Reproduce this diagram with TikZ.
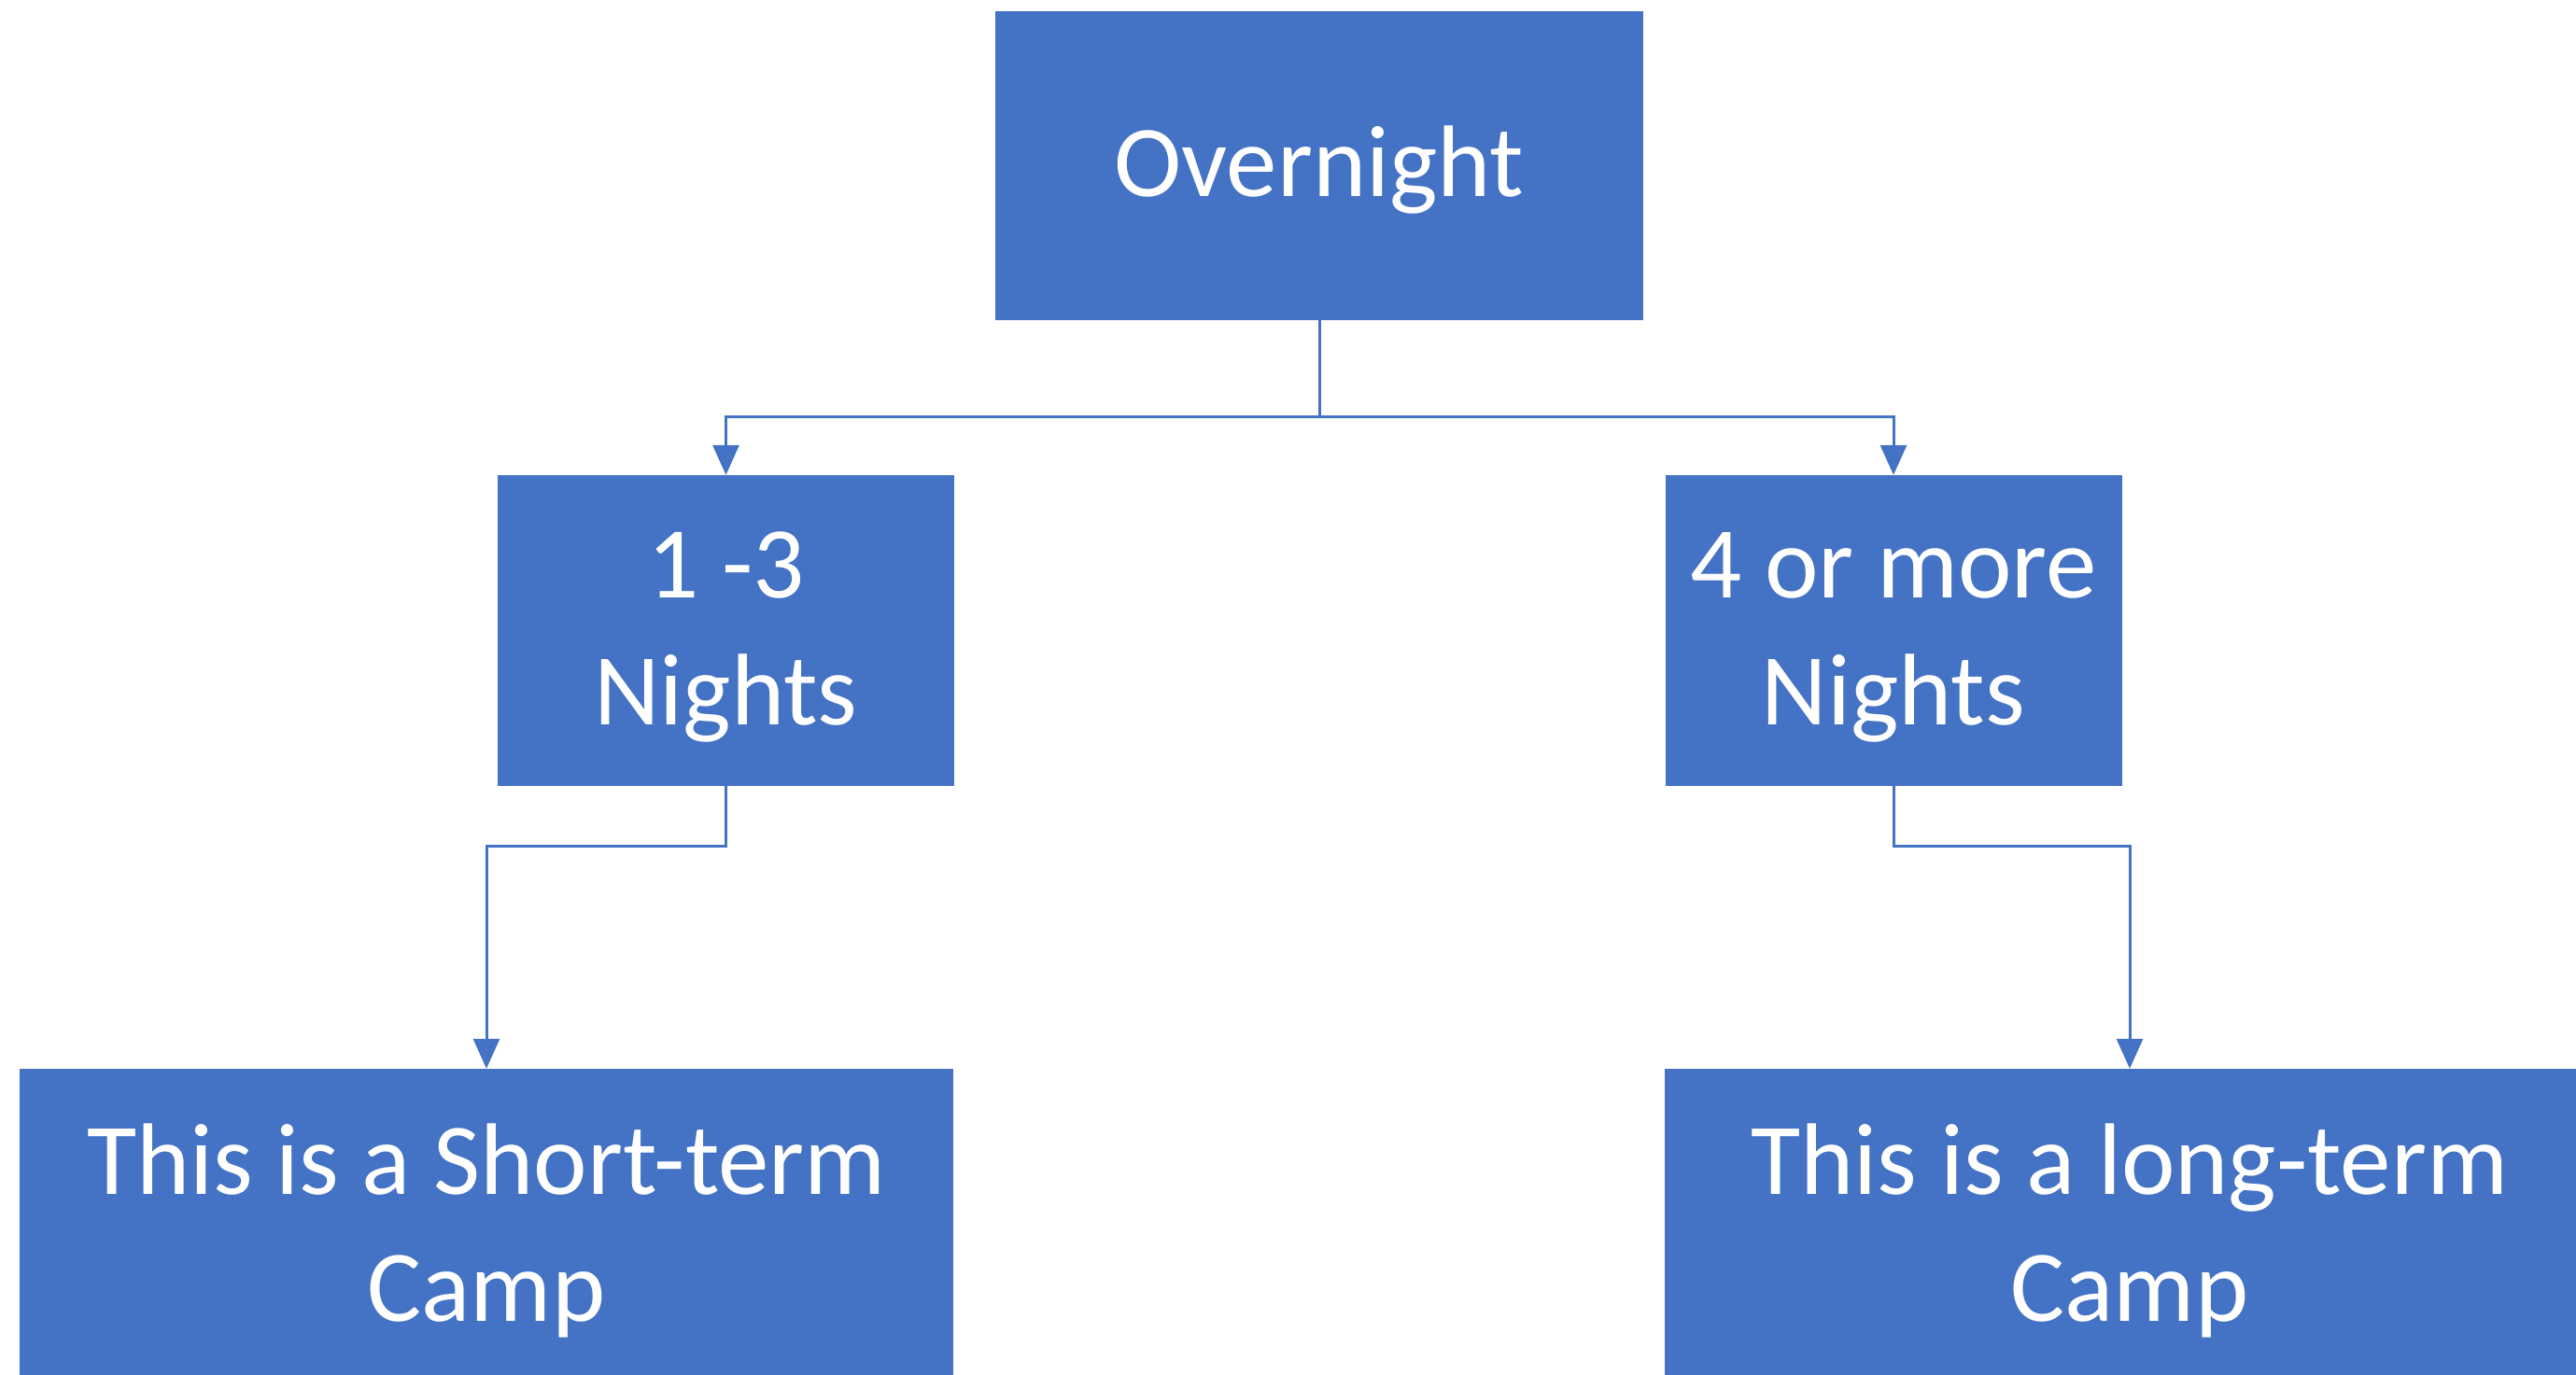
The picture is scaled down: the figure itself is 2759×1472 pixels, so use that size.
\documentclass[tikz,border=0pt]{standalone}
\usepackage{fontspec}
\setmainfont{Carlito}
\usetikzlibrary{arrows.meta}
\definecolor{boxblue}{HTML}{4472C4}
\newcommand\pptstrut{\rule[-35pt]{0pt}{136pt}}
\begin{document}
\begin{tikzpicture}[x=1pt,y=-1pt,
  box/.style={rectangle, fill=boxblue, text=white, inner sep=0pt, align=center,
              font=\fontsize{109}{136}\selectfont},
  conn/.style={draw=boxblue, line width=3pt, -{Triangle[width=28pt,length=32pt]}},
  link/.style={draw=boxblue, line width=3pt}]
\useasboundingbox[fill=white] (0,0) rectangle (2759,1472);
\begin{scope}
\clip (0,0) rectangle (2759,1472);
\node[box, minimum width=694pt, minimum height=331pt] (over) at (1413,177.5) {\pptstrut Overnight};
\node[box, minimum width=489pt, minimum height=333pt] (n13) at (777.5,675.5) {\pptstrut 1 -3\\\pptstrut Nights};
\node[box, minimum width=489pt, minimum height=333pt] (n4) at (2028,675.5) {\pptstrut 4 or more\\\pptstrut Nights};
\node[box, minimum width=1000pt, minimum height=339pt] (short) at (521,1314.5) {\pptstrut This is a Short-term\\\pptstrut Camp};
\node[box, minimum width=996pt, minimum height=339pt] (long) at (2281,1314.5) {\pptstrut This is a long-term\\\pptstrut Camp};
\end{scope}
\coordinate (j1) at (1413,446);
\coordinate (j2) at (0,906);
\draw[link] (over.south) -- (over.south |- j1);
\draw[conn] (over.south |- j1) -| (n13.north);
\draw[conn] (over.south |- j1) -| (n4.north);
\draw[conn] (n13.south) -- (n13.south |- j2) -| (short.north);
\draw[conn] (n4.south) -- (n4.south |- j2) -| (long.north);
\end{tikzpicture}
\end{document}
